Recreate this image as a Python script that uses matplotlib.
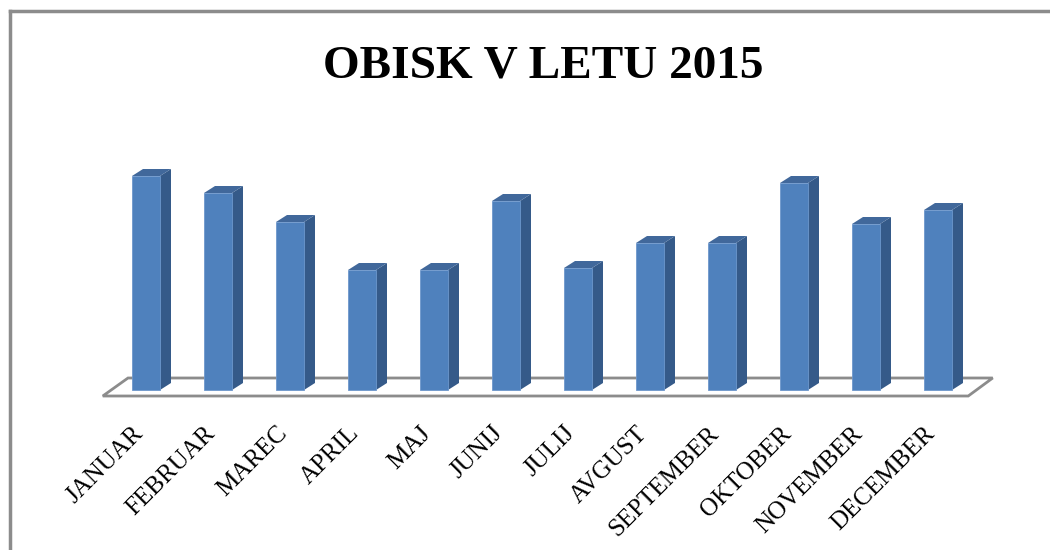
import matplotlib.pyplot as plt
from matplotlib.patches import Polygon

months = ['JANUAR', 'FEBRUAR', 'MAREC', 'APRIL', 'MAJ', 'JUNIJ', 'JULIJ',
          'AVGUST', 'SEPTEMBER', 'OKTOBER', 'NOVEMBER', 'DECEMBER']
visits = [214, 197, 168, 120, 120, 189, 122, 147, 147, 207, 166, 180]
title = 'OBISK V LETU 2015'

front_col = '#4f81bd'
side_col = '#355a89'
top_col = '#41689b'

fig = plt.figure(figsize=(10.5, 5.5), dpi=100)
ax = fig.add_axes([0, 0, 1, 1])
# one data unit per category on x, pixel-ish units on y
ax.set_xlim(-146 / 72, (1050 - 146) / 72)
ax.set_ylim(-160, 390)
ax.axis('off')

# chart frame (only top and left edges are visible)
ax.plot([-136 / 72, 20], [379, 379], color='#8c8c8c', lw=2.5, clip_on=False)
ax.plot([-136 / 72, -136 / 72], [379, -200], color='#8c8c8c', lw=2.5, clip_on=False)

# floor
dx, dy = 11 / 72, 7
n = len(months)
floor = Polygon([(-0.6, -6), (n - 1 + 0.42, -6), (n - 1 + 0.76, 12), (-0.25, 12)],
                closed=True, facecolor='white', edgecolor='#8c8c8c', lw=2, zorder=1)
ax.add_patch(floor)

w = 28 / 72
bars = ax.bar(range(n), visits, width=w, color=front_col, edgecolor='#6d97cc',
              lw=0.6, zorder=3)
for b in bars:
    x0 = b.get_x()
    x1 = x0 + b.get_width()
    h = b.get_height()
    side = Polygon([(x1, 0), (x1 + dx, dy), (x1 + dx, h + dy), (x1, h)],
                   closed=True, facecolor=side_col, edgecolor='none', zorder=2)
    top = Polygon([(x0, h), (x1, h), (x1 + dx, h + dy), (x0 + dx, h + dy)],
                  closed=True, facecolor=top_col, edgecolor='none', zorder=2)
    ax.add_patch(side)
    ax.add_patch(top)

for i, m in enumerate(months):
    ax.text(i - 0.09, -40, m, rotation=45, rotation_mode='anchor', ha='right',
            va='center', fontsize=18, family='Liberation Serif')

ax.text(543 / 72 - 146 / 72, 390 - 66, title, ha='center', va='center',
        fontsize=34, fontweight='bold', family='Liberation Serif')

fig.savefig('out.png', dpi=100)
